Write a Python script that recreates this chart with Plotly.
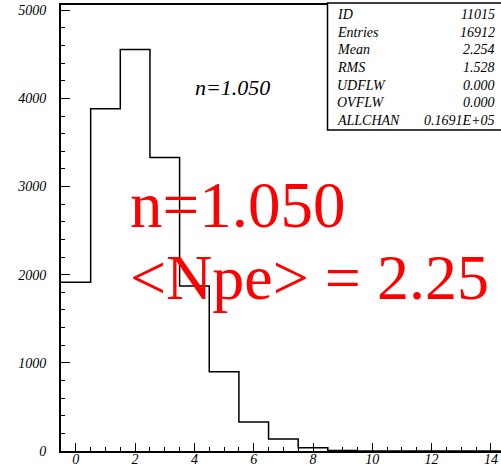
import plotly.graph_objects as go

# Histogram data (bin centres and contents)
bin_centers = [0, 1, 2, 3, 4, 5, 6, 7, 8, 9, 10, 11, 12, 13, 14]
counts = [1915, 3882, 4555, 3329, 1873, 900, 329, 136, 37, 5, 1, 0, 0, 0, 0]
bin_width = 1.0

stat_labels = ["ID", "Entries", "Mean", "RMS", "UDFLW", "OVFLW", "ALLCHAN"]
stat_values = ["11015", "16912", "2.254", "1.528", "0.000", "0.000", "0.1691E+05"]

x_ticks = [0, 2, 4, 6, 8, 10, 12, 14]
y_ticks = [0, 1000, 2000, 3000, 4000, 5000]

# step outline built from bin edges
xs = [c - bin_width / 2 for c in bin_centers] + [bin_centers[-1] + bin_width / 2]
ys = counts + [counts[-1]]

SERIF = "Liberation Serif"

fig = go.Figure()
fig.add_trace(go.Scatter(x=xs, y=ys, mode="lines", line=dict(shape="hv", color="black", width=1.5),
                         hoverinfo="skip", showlegend=False))

W, H = 501, 468
ml, mt, mr, mb = 61, 5, 0, 17
pw, ph = W - ml - mr, H - mt - mb

def px_x(x):
    return (x - ml) / pw

def px_y(y):
    return (H - mb - y) / ph

fig.update_layout(
    width=W, height=H,
    margin=dict(l=ml, r=mr, t=mt, b=mb, autoexpand=False),
    paper_bgcolor="white", plot_bgcolor="white",
    font=dict(family=SERIF, size=14, color="black"),
    showlegend=False,
    xaxis=dict(range=[-0.5, 14.34], tickvals=x_ticks, ticks="inside", ticklen=8, tickwidth=1.3,
               tickcolor="black", showgrid=False, zeroline=False, showline=True, linecolor="black",
               linewidth=2, mirror=True, tickfont=dict(family=SERIF, size=14, style="italic"),
               ticklabelstandoff=-6, automargin=False,
               minor=dict(dtick=0.5, tick0=0, ticks="inside", ticklen=4, tickcolor="black", tickwidth=1, showgrid=False)),
    yaxis=dict(range=[0, 5060], tickvals=y_ticks, ticks="inside", ticklen=9, tickwidth=1.3,
               tickcolor="black", showgrid=False, zeroline=False, showline=True, linecolor="black",
               linewidth=2, mirror=True, tickfont=dict(family=SERIF, size=14, style="italic"),
               ticklabelstandoff=10, automargin=False,
               minor=dict(dtick=200, tick0=0, ticks="inside", ticklen=4, tickcolor="black", tickwidth=1, showgrid=False)),
)

# statistics box
fig.add_shape(type="rect", xref="paper", yref="paper", x0=px_x(327.5), x1=px_x(505), y0=px_y(130), y1=px_y(3),
              line=dict(color="black", width=1.5), fillcolor="white", layer="above")
row_y0, row_dy = 14.5, 17.7
for i, (lab, val) in enumerate(zip(stat_labels, stat_values)):
    yy = px_y(row_y0 + i * row_dy)
    fig.add_annotation(xref="paper", yref="paper", x=px_x(335), y=yy, text=lab, showarrow=False,
                       xanchor="left", yanchor="middle", font=dict(family=SERIF, size=14, style="italic"))
    fig.add_annotation(xref="paper", yref="paper", x=px_x(497), y=yy, text=val, showarrow=False,
                       xanchor="right", yanchor="middle", font=dict(family=SERIF, size=14, style="italic"))

fig.add_annotation(xref="paper", yref="paper", x=px_x(232), y=px_y(88), text="n=1.050", showarrow=False,
                   xanchor="center", yanchor="middle", font=dict(family=SERIF, size=22, style="italic"))

fig.add_annotation(xref="paper", yref="paper", x=px_x(128), y=px_y(205), text="n=1.050", showarrow=False,
                   xanchor="left", yanchor="middle", font=dict(family=SERIF, size=65, color="red"))
fig.add_annotation(xref="paper", yref="paper", x=px_x(128), y=px_y(277), text="&lt;Npe&gt; = 2.25", showarrow=False,
                   xanchor="left", yanchor="middle", font=dict(family=SERIF, size=64, color="red"))

fig.write_html("out.html", config={"displayModeBar": False},
               post_script="document.body.style.margin='0';document.body.style.overflow='hidden';")
